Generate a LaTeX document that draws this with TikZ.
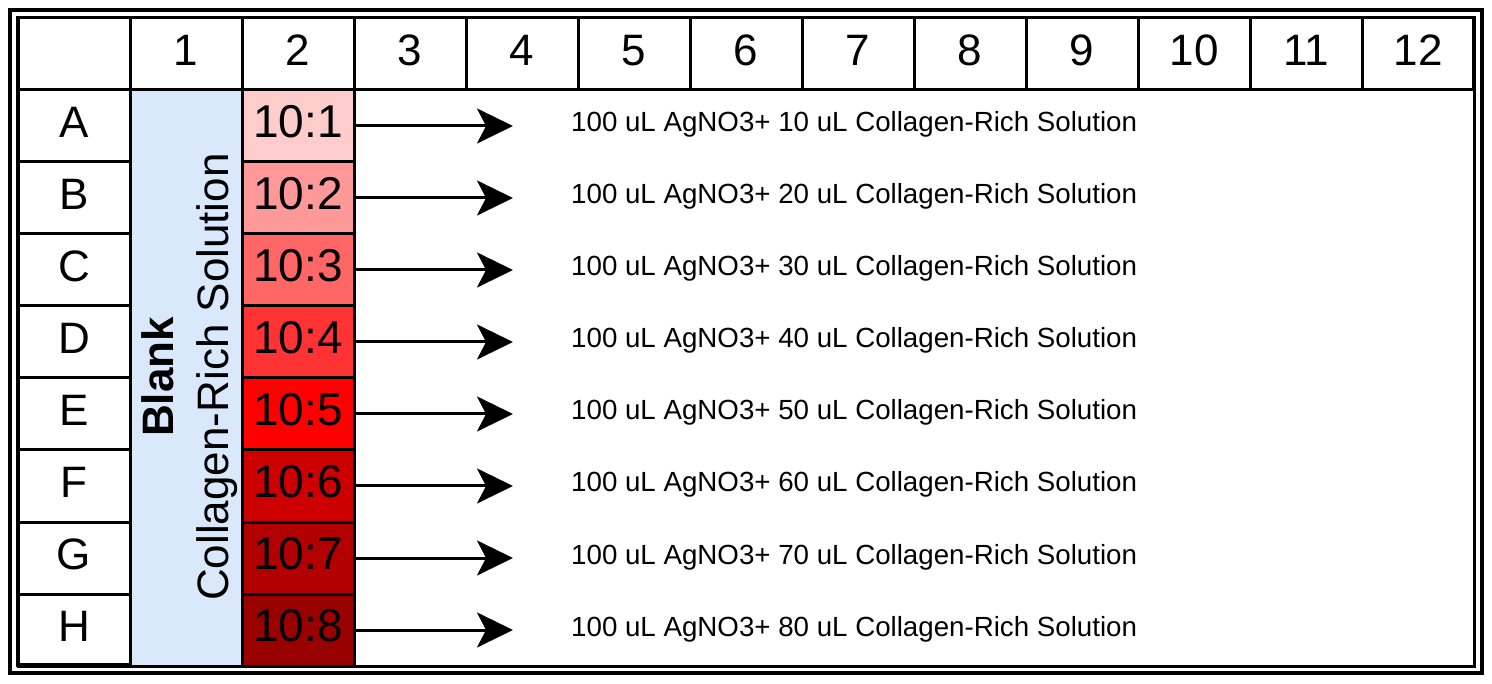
\documentclass[tikz,border=0pt]{standalone}
\usepackage{fontspec}
\setmainfont{Liberation Sans}
\usetikzlibrary{arrows.meta}
\definecolor{blankblue}{HTML}{DAE8FC}
\definecolor{shadeA}{HTML}{FFCCCC}
\definecolor{shadeB}{HTML}{FF9999}
\definecolor{shadeC}{HTML}{FF6666}
\definecolor{shadeD}{HTML}{FF3333}
\definecolor{shadeE}{HTML}{FF0000}
\definecolor{shadeF}{HTML}{CC0000}
\definecolor{shadeG}{HTML}{B20000}
\definecolor{shadeH}{HTML}{990000}
\begin{document}
\begin{tikzpicture}[x=1pt,y=-1pt,
  frame/.style={line width=3.5pt},
  cell/.style={draw, line width=3pt, minimum width=112pt, minimum height=72pt,
    inner sep=0pt, text height=32pt, text depth=9pt,
    font=\fontsize{44}{48}\selectfont},
  ratio/.style={cell, font=\fontsize{46}{50}\selectfont},
  block/.style={draw, line width=3pt, inner sep=0pt},
  note/.style={anchor=base west, inner sep=0pt, font=\fontsize{27.7}{32}\selectfont},
  sidetext/.style={rotate=90, anchor=base, inner sep=0pt, font=\fontsize{44}{48}\selectfont},
  arr/.style={line width=3pt, -{Stealth[length=36pt,width=35pt,inset=9pt]}}
]
\useasboundingbox (0,0) rectangle (1492,684);

% plate outline (double frame)
\draw[frame] (10,10) rectangle (1482,673);
\draw[frame] (17.5,17.5) rectangle (1474,665);

% blank column and the open field of columns 3-12
\node[block, fill=blankblue, minimum width=112pt, minimum height=576pt] (blank) at (186,378) {};
\node[block, fill=white, minimum width=1120pt, minimum height=576pt] (field) at (914,378) {};

% header row
\node[cell] (corner) at (74,54) {};
\foreach \c in {1,...,12}
  \node[cell] (col\c) at ({186+112*(\c-1)},54) {\c};

% row labels, dilution wells, arrows and descriptions
\foreach \r/\lab/\shade [count=\k from 0] in {A/A/shadeA, B/B/shadeB, C/C/shadeC, D/D/shadeD,
    E/E/shadeE, F/F/shadeF, G/G/shadeG, H/H/shadeH} {
  \node[cell] (row\r) at (74,{126+72*\k}) {\lab};
  \node[ratio, fill=\shade] (well\r) at (298,{126+72*\k}) {10:\the\numexpr\k+1\relax};
  \coordinate (tip\r) at (513,{126+72*\k});
  \draw[arr] (well\r.east) -- (tip\r);
  \node[note] (desc\r) at (571,{132+72*\k})
    {100 uL AgNO3+ \the\numexpr(\k+1)*10\relax{} uL Collagen-Rich Solution};
}

% vertical caption in the blank column
\node[sidetext, font=\bfseries\fontsize{44}{48}\selectfont] (blanklabel) at (173,377) {Blank};
\node[sidetext] (solutionlabel) at (228,377) {Collagen-Rich Solution};
\end{tikzpicture}
\end{document}
